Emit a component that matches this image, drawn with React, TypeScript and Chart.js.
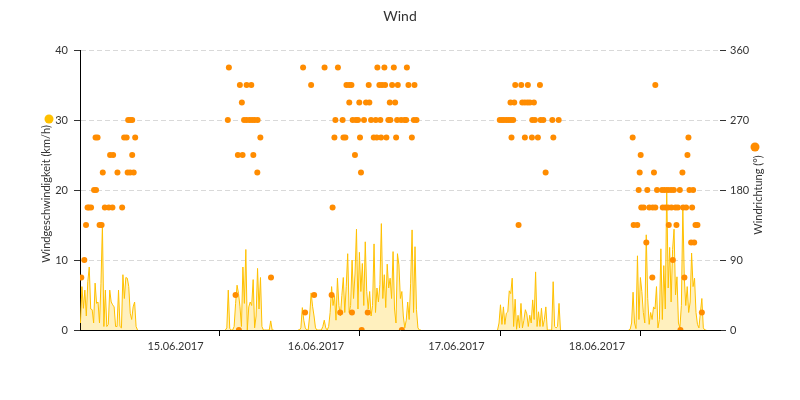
import { useEffect, useRef } from 'react';
import { Chart, registerables } from 'chart.js';

Chart.register(...registerables);

const TITLE = 'Wind';
const SPEED_LABEL = 'Windgeschwindigkeit (km/h)';
const DIR_LABEL = 'Windrichtung (°)';
const DAY_LABELS = ['15.06.2017', '16.06.2017', '17.06.2017', '18.06.2017'];
const DAY_TICK_HOURS = [24, 48, 72, 96];
const X_MIN_H = 0.17;
const X_MAX_H = 109.5;
const STEP_H = 0.25;

// Wind speed (km/h), one value per 15 minutes, per measuring period
const speedDay14 = [1, 6.2, 3.1, 5.7, 2, 6.9, 9, 3, 2.9, 1, 6.7, 3.8, 4, 1, 6.6, 15, 0.5, 5.7, 0.5, 0.8, 5.7, 4, 3.6, 3.3, 0.5, 0.5, 5.7, 0.5, 0.3, 7.9, 4.5, 7.5, 7.4, 6.2, 2.4, 1.5, 3.3, 4, 0.5, 0];
const speedDay15 = [0, 0.3, 5.7, 0.2, 0, 0, 0.5, 3.8, 6.4, 5.2, 3.3, 0.5, 9, 3.8, 11.5, 0, 3.3, 4, 3.5, 7.2, 0.3, 2, 8.8, 3, 7.5, 0.5, 0, 0, 0, 0, 0, 1.3, 0, 0];
const speedDay16 = [0, 0, 0.3, 3.2, 1.4, 0.3, 0, 0, 2, 5.3, 3.4, 2, 0.3, 0, 0, 0, 0, 0.5, 1.4, 0.3, 0, 0.5, 2.5, 6.2, 3.5, 4.9, 1.4, 7.4, 3.5, 2, 4.9, 7.5, 2.5, 6.2, 10.9, 2.5, 3.5, 10, 4.5, 8, 14.4, 3, 11.1, 5.5, 9.5, 3.5, 12.6, 5.5, 3, 5.5, 2, 3.5, 12.3, 2.5, 6, 4, 6.5, 15.2, 4.5, 7.9, 3.2, 9.4, 6, 7.4, 4.5, 11.2, 3, 1, 10.9, 9.3, 4.5, 5.5, 2, 0.3, 1.4, 4, 1.5, 6.6, 14.3, 2.5, 11.9, 2.9, 0.3, 0, 0];
const speedDay17 = [0, 1, 3.6, 0.8, 3.3, 0.8, 2.4, 2.6, 5.6, 5.2, 7.4, 0.5, 4.4, 0.1, 2.1, 0.3, 3.8, 0.3, 1.4, 2.9, 2.3, 0.5, 2.1, 1, 4.3, 1.5, 8.3, 0.5, 2.6, 0.5, 3.1, 0.5, 1.5, 3.3, 0, 0, 0, 0, 6.9, 0.5, 0.3, 0.5, 3.8, 0];
const speedDay18 = [0, 0.1, 1, 5.4, 1, 0.2, 10.6, 1.5, 7.5, 5.5, 2.5, 1, 13.6, 4.5, 0.8, 2.5, 1.5, 3.3, 3, 6.2, 0.3, 1.5, 11.6, 1.5, 9.2, 3, 20.4, 6, 11.8, 4, 11.5, 14.4, 5, 7.6, 1, 0.3, 3.5, 17.5, 7.5, 3.5, 6.2, 2.5, 4, 11, 6.2, 7.4, 2.5, 0.8, 0.3, 2.5, 4.5, 0.3, 0, 0];
const speedStartHours = [0.25, 25.0, 37.4, 71.5, 93.9];
const speedSeries = [speedDay14, speedDay15, speedDay16, speedDay17, speedDay18];

// Wind direction (degrees): [hour, direction]
const dirDay14 = [[0.39, 67.5], [0.91, 90], [1.2, 135], [1.46, 157.5], [1.71, 157.5], [2.06, 157.5], [2.57, 180], [2.91, 180], [2.83, 247.5], [3.17, 247.5], [3.51, 135], [3.86, 135], [4.06, 202.5], [4.41, 157.5], [5.09, 157.5], [5.71, 157.5], [5.31, 225], [5.83, 225], [6.57, 202.5], [7.37, 157.5], [7.71, 247.5], [8.14, 247.5], [8.31, 202.5], [8.74, 202.5], [9.34, 202.5], [8.4, 270], [8.74, 270], [9.09, 270], [9.09, 225], [9.6, 247.5]];
const dirDay15 = [[25.42, 270], [25.6, 337.5], [26.74, 45], [27.14, 225], [27.31, 0], [27.48, 315], [27.82, 292.5], [27.94, 225], [28.2, 270], [28.63, 270], [28.63, 315], [29.14, 270], [29.43, 315], [29.57, 270], [29.78, 225], [30.0, 270], [30.46, 202.5], [30.51, 270], [30.98, 247.5], [32.8, 67.5]];
const dirDay16 = [[38.28, 337.5], [38.62, 22.5], [39.65, 315], [40.17, 45], [41.95, 337.5], [43.15, 45], [43.32, 157.5], [43.63, 247.5], [43.8, 270], [44.23, 337.5], [44.62, 22.5], [45.03, 270], [45.17, 247.5], [45.51, 247.5], [45.69, 315], [46.17, 315], [46.17, 292.5], [46.54, 315], [46.63, 22.5], [46.75, 270], [47.14, 225], [47.31, 270], [47.66, 270], [47.88, 292.5], [48.0, 247.5], [48.17, 202.5], [48.29, 0], [48.69, 270], [49.03, 292.5], [49.32, 22.5], [49.49, 315], [49.6, 292.5], [49.89, 270], [50.35, 247.5], [50.69, 270], [50.86, 247.5], [50.97, 337.5], [51.31, 315], [51.48, 270], [51.6, 247.5], [51.77, 315], [52.17, 337.5], [52.29, 315], [52.51, 247.5], [52.85, 270], [53.09, 292.5], [53.19, 270], [53.49, 315], [53.78, 337.5], [54.0, 292.5], [54.17, 247.5], [54.34, 270], [54.46, 315], [55.03, 270], [55.15, 0], [55.6, 270], [55.89, 270], [56.01, 337.5], [56.28, 315], [56.86, 247.5], [57.2, 270], [57.31, 315], [57.65, 270]];
const dirDay17 = [[71.88, 270], [72.26, 270], [72.6, 270], [73.03, 270], [73.42, 270], [73.8, 270], [74.17, 270], [73.71, 292.5], [74.35, 292.5], [73.88, 247.5], [74.52, 315], [75.09, 135], [75.55, 315], [75.72, 292.5], [76.17, 292.5], [76.17, 247.5], [76.63, 292.5], [76.68, 315], [77.03, 292.5], [77.37, 247.5], [77.43, 270], [77.71, 292.5], [77.88, 270], [78.39, 247.5], [78.74, 315], [78.86, 270], [79.32, 270], [79.71, 202.5], [80.86, 270], [81.03, 247.5], [81.94, 270]];
const dirDay18 = [[94.58, 247.5], [94.75, 135], [95.37, 135], [95.61, 180], [95.78, 202.5], [95.95, 225], [96.05, 157.5], [96.46, 157.5], [96.91, 112.5], [97.08, 180], [97.42, 157.5], [97.94, 67.5], [98.0, 157.5], [98.22, 202.5], [98.45, 157.5], [98.45, 315], [98.74, 180], [99.6, 180], [99.72, 157.5], [100.06, 180], [100.17, 157.5], [100.63, 180], [100.63, 157.5], [100.75, 135], [101.14, 180], [101.2, 157.5], [101.44, 90], [101.61, 180], [101.89, 157.5], [102.06, 135], [102.3, 157.5], [102.64, 180], [102.74, 0], [103.08, 202.5], [103.2, 157.5], [103.42, 67.5], [103.71, 157.5], [103.94, 225], [104.11, 247.5], [104.28, 180], [104.57, 112.5], [104.74, 157.5], [104.91, 180], [105.09, 112.5], [105.31, 135], [105.65, 135], [106.4, 22.5]];
const dirSeries = [dirDay14, dirDay15, dirDay16, dirDay17, dirDay18];

const SPEED_COLOR = '#FFC000';
const SPEED_FILL = 'rgba(255, 205, 40, 0.3)';
const DIR_COLOR = '#FF8C00';
const TEXT_COLOR = '#333333';
const FONT = 'Lato, "Open Sans", sans-serif';

const textPlugin = {
  id: 'windTexts',
  afterDraw(chart: any) {
    const { ctx, chartArea } = chart;
    const midY = (chartArea.top + chartArea.bottom) / 2;
    ctx.save();
    ctx.fillStyle = TEXT_COLOR;
    ctx.textAlign = 'center';
    ctx.textBaseline = 'middle';
    ctx.font = `14px ${FONT}`;
    ctx.fillText(TITLE, 400, 16);

    ctx.font = `11px ${FONT}`;
    ctx.save();
    ctx.translate(chartArea.left - 34, midY + 4);
    ctx.rotate(-Math.PI / 2);
    ctx.fillText(SPEED_LABEL, 0, 0);
    ctx.restore();

    ctx.save();
    ctx.translate(chartArea.right + 38, midY + 5);
    ctx.rotate(-Math.PI / 2);
    ctx.fillText(DIR_LABEL, 0, 0);
    ctx.restore();

    ctx.fillStyle = SPEED_COLOR;
    ctx.beginPath();
    ctx.arc(chartArea.left - 31, midY - 71, 4.5, 0, Math.PI * 2);
    ctx.fill();

    ctx.fillStyle = DIR_COLOR;
    ctx.beginPath();
    ctx.arc(chartArea.right + 35, midY - 43, 4.5, 0, Math.PI * 2);
    ctx.fill();
    ctx.restore();
  },
};

export default function App() {
  const canvasRef = useRef<HTMLCanvasElement | null>(null);

  useEffect(() => {
    if (!canvasRef.current) return;

    const speedData: any[] = [];
    speedSeries.forEach((vals, si) => {
      if (si > 0) speedData.push({ x: speedStartHours[si] - 0.5, y: null });
      vals.forEach((v, i) => speedData.push({ x: speedStartHours[si] + i * STEP_H, y: v }));
    });
    const dirData: any[] = [];
    dirSeries.forEach((arr) => arr.forEach(([h, d]) => dirData.push({ x: h, y: d })));

    const chart = new Chart(canvasRef.current, {
      type: 'line',
      data: {
        datasets: [
          {
            label: 'Windrichtung',
            type: 'scatter',
            data: dirData,
            yAxisID: 'y2',
            backgroundColor: DIR_COLOR,
            borderColor: DIR_COLOR,
            borderWidth: 0,
            pointRadius: 3,
            showLine: false,
            order: 0,
          } as any,
          {
            label: 'Windgeschwindigkeit',
            data: speedData,
            yAxisID: 'y',
            borderColor: SPEED_COLOR,
            backgroundColor: SPEED_FILL,
            borderWidth: 1,
            pointRadius: 0,
            fill: 'origin',
            tension: 0,
            spanGaps: false,
            order: 1,
          },
        ],
      },
      options: {
        responsive: false,
        animation: false,
        layout: { padding: { top: 50, left: 0, right: 0, bottom: 0 } },
        plugins: {
          legend: { display: false },
          title: { display: false },
          tooltip: { enabled: false },
        },
        scales: {
          x: {
            type: 'linear',
            position: 'bottom',
            min: X_MIN_H,
            max: X_MAX_H,
            afterBuildTicks: (scale: any) => {
              scale.ticks = DAY_TICK_HOURS.map((v) => ({ value: v }));
            },
            afterFit: (scale: any) => {
              scale.height = 70;
            },
            ticks: {
              autoSkip: false,
              maxRotation: 0,
              labelOffset: -44,
              padding: 4,
              color: TEXT_COLOR,
              font: { family: FONT, size: 11 },
              callback: (_v: any, i: number) => DAY_LABELS[i],
            },
            grid: {
              drawOnChartArea: false,
              drawTicks: true,
              tickLength: 6,
              tickColor: '#000',
            },
            border: { display: true, color: '#000', width: 1 },
          },
          y: {
            type: 'linear',
            position: 'left',
            min: 0,
            max: 40,
            afterFit: (scale: any) => {
              scale.width = 80;
            },
            ticks: {
              stepSize: 10,
              padding: 6,
              color: TEXT_COLOR,
              font: { family: FONT, size: 11 },
            },
            grid: {
              color: '#d9d9d9',
              tickColor: '#333',
              tickLength: 6,
              tickBorderDash: [],
            },
            border: { display: true, color: '#000', width: 1, dash: [5, 3] },
          },
          y2: {
            type: 'linear',
            position: 'right',
            min: 0,
            max: 360,
            afterFit: (scale: any) => {
              scale.width = 80;
            },
            ticks: {
              stepSize: 90,
              padding: 4,
              color: TEXT_COLOR,
              font: { family: FONT, size: 11 },
            },
            grid: {
              drawOnChartArea: false,
              tickColor: '#333',
              tickLength: 6,
            },
            border: { display: false },
          },
        },
      },
      plugins: [textPlugin],
    });

    return () => chart.destroy();
  }, []);

  return (
    <div style={{ position: 'fixed', left: 0, top: 0, width: 800, height: 400, background: '#fff' }}>
      <canvas ref={canvasRef} width={800} height={400} style={{ display: 'block' }} />
    </div>
  );
}
